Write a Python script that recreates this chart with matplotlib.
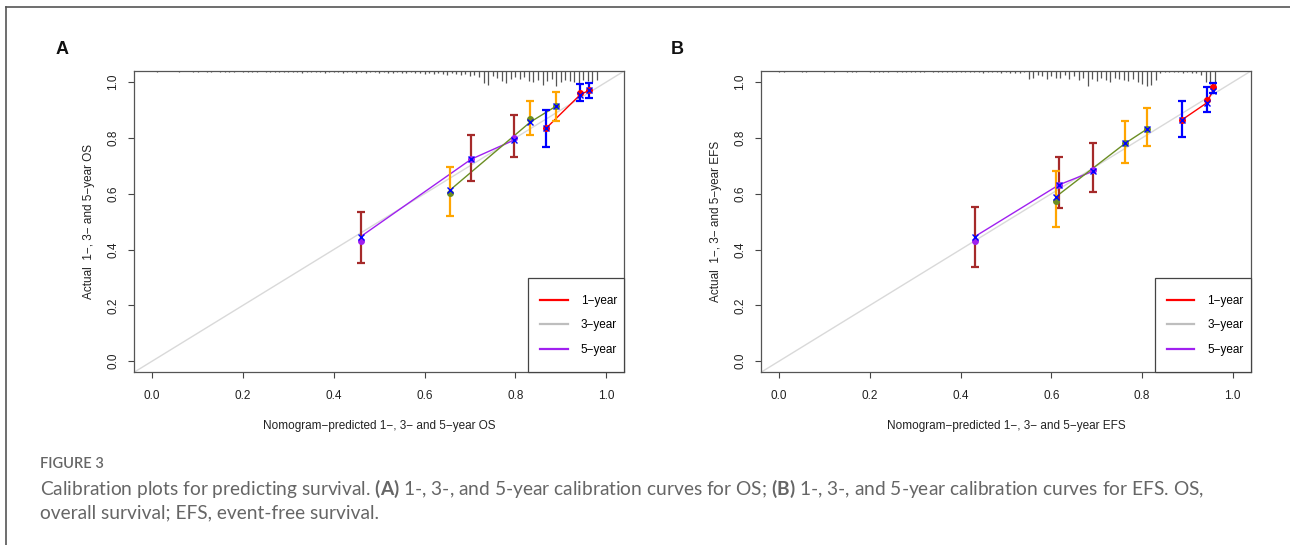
import matplotlib
matplotlib.use('Agg')
import matplotlib.pyplot as plt
import numpy as np
from matplotlib.lines import Line2D
from matplotlib.patches import Rectangle

# ---------------- data ----------------
# panel A : OS
a_5y_pred = [0.459, 0.703, 0.798]
a_5y_obs = [0.432, 0.724, 0.801]
a_5y_x = [0.446, 0.724, 0.793]
a_5y_lo = [0.351, 0.644, 0.732]
a_5y_hi = [0.533, 0.811, 0.881]

a_3y_pred = [0.656, 0.833, 0.890]
a_3y_obs = [0.602, 0.869, 0.914]
a_3y_x = [0.613, 0.857, 0.914]
a_3y_lo = [0.519, 0.812, 0.862]
a_3y_hi = [0.696, 0.932, 0.964]

a_1y_pred = [0.868, 0.943, 0.963]
a_1y_obs = [0.835, 0.962, 0.971]
a_1y_x = [0.835, 0.955, 0.971]
a_1y_lo = [0.769, 0.932, 0.944]
a_1y_hi = [0.902, 0.995, 0.996]

# panel B : EFS
b_5y_pred = [0.431, 0.617, 0.691]
b_5y_obs = [0.432, 0.632, 0.686]
b_5y_x = [0.446, 0.632, 0.680]
b_5y_lo = [0.339, 0.550, 0.608]
b_5y_hi = [0.551, 0.732, 0.783]

b_3y_pred = [0.610, 0.763, 0.812]
b_3y_obs = [0.575, 0.781, 0.833]
b_3y_x = [0.589, 0.781, 0.833]
b_3y_lo = [0.482, 0.710, 0.770]
b_3y_hi = [0.682, 0.861, 0.907]

b_1y_pred = [0.888, 0.943, 0.956]
b_1y_obs = [0.865, 0.936, 0.982]
b_1y_x = [0.865, 0.926, 0.970]
b_1y_lo = [0.804, 0.894, 0.960]
b_1y_hi = [0.932, 0.981, 0.996]

# spike histogram of predicted probabilities at the top (bins of 0.01)
a_rug_start = 0.01
a_rug_counts = [1, 0, 0, 0, 0, 1, 0, 0, 1, 1,
                0, 1, 1, 0, 1, 1, 1, 1, 0, 1,
                1, 1, 1, 0, 1, 1, 1, 1, 1, 1,
                1, 1, 2, 1, 1, 1, 1, 2, 1, 1,
                1, 2, 1, 1, 2, 1, 2, 1, 1, 2,
                1, 2, 2, 1, 2, 2, 1, 2, 2, 3,
                2, 3, 2, 3, 4, 2, 3, 4, 3, 5,
                4, 6, 12, 14, 5, 7, 10, 12, 8, 6,
                8, 6, 10, 11, 9, 14, 10, 8, 15, 11,
                9, 10, 11, 12, 9, 10, 11, 9]
b_rug_start = 0.0
b_rug_counts = [1, 1, 0, 0, 0, 1, 1, 0, 0, 0,
                1, 0, 1, 0, 0, 1, 1, 1, 0, 0,
                1, 1, 1, 1, 1, 0, 1, 1, 1, 1,
                1, 1, 1, 0, 1, 1, 1, 1, 1, 1,
                1, 1, 1, 1, 1, 2, 1, 1, 1, 2,
                1, 2, 2, 2, 1, 7, 6, 4, 5, 7,
                5, 6, 6, 4, 7, 5, 8, 6, 14, 7,
                9, 6, 8, 10, 6, 7, 8, 9, 7, 10,
                12, 14, 13, 8, 2, 1, 1, 1, 1, 2,
                1, 2, 2, 4, 10, 12, 13]

ticks = [0.0, 0.2, 0.4, 0.6, 0.8, 1.0]
tick_labels = ['0.0', '0.2', '0.4', '0.6', '0.8', '1.0']
legend_labels = ['1\u2212year', '3\u2212year', '5\u2212year']

# colours
err_cols = {'1y': '#0000FF', '3y': '#FFA500', '5y': '#A52A2A'}
line_cols = {'1y': '#FF0000', '3y': '#6B8E23', '5y': '#A020F0'}
legend_cols = ['#FF0000', '#BEBEBE', '#A020F0']

FONT = ['Liberation Sans', 'DejaVu Sans']
plt.rcParams['font.family'] = FONT
plt.rcParams['mathtext.fontset'] = 'custom'
plt.rcParams['mathtext.rm'] = 'Lato'
plt.rcParams['mathtext.bf'] = 'Lato:bold'

fig = plt.figure(figsize=(12.9, 5.45), dpi=100)


def draw_group(ax, pred, obs, xs, lo, hi, key):
    pred = np.array(pred)
    obs = np.array(obs)
    yerr = [obs - np.array(lo), np.array(hi) - obs]
    ax.plot(pred, xs, color=line_cols[key], lw=1.0, zorder=3)
    ax.errorbar(pred, obs, yerr=yerr, fmt='none', ecolor=err_cols[key],
                elinewidth=1.6, capsize=3.2, capthick=1.6, zorder=4)
    ax.plot(pred, obs, 'o', color=line_cols[key], ms=4, zorder=5)
    ax.plot(pred, xs, 'x', color='#0000FF', ms=4.5, mew=1.0, zorder=6)


def panel(rect, groups, rug_start, rug_counts, name):
    ax = fig.add_axes(rect)
    ax.set_xlim(-0.04, 1.04)
    ax.set_ylim(-0.04, 1.04)
    ax.axline((0, 0), slope=1, color='#D9D9D9', lw=1.0, zorder=1)

    # spike histogram hanging from the top edge
    counts = np.array(rug_counts, dtype=float)
    rx = rug_start + 0.01 * np.arange(len(counts))
    keep = counts > 0
    h = counts[keep] / counts.max() * 0.055
    ax.vlines(rx[keep], 1.04 - h, 1.04, color='#555555', lw=0.9, zorder=2)

    for g, key in zip(groups, ['5y', '3y', '1y']):
        draw_group(ax, *g, key)

    ax.set_xticks(ticks)
    ax.set_xticklabels(tick_labels)
    ax.set_yticks(ticks)
    ax.set_yticklabels(tick_labels, rotation=90, va='center')
    ax.tick_params(direction='out', length=4.5, width=0.8, color='#444444',
                   labelsize=8.5, labelcolor='#222222')
    ax.tick_params(axis='x', pad=8)
    ax.tick_params(axis='y', pad=6)
    for s in ax.spines.values():
        s.set_color('#555555')
        s.set_linewidth(0.9)

    ax.set_xlabel('Nomogram\u2212predicted 1\u2212, 3\u2212 and 5\u2212year ' + name,
                  fontsize=8.5, color='#222222', labelpad=13)
    ax.set_ylabel('Actual  1\u2212, 3\u2212 and 5\u2212year ' + name,
                  fontsize=8.5, color='#222222', labelpad=9)

    # legend box sits in the lower right corner, R style
    box = (0.804, 0.0, 0.196, 0.312)
    ax.add_patch(Rectangle(box[:2], box[2], box[3], transform=ax.transAxes,
                           facecolor='white', edgecolor='#444444', lw=0.9,
                           zorder=7, clip_on=False))
    handles = [Line2D([], [], color=c, lw=1.6) for c in legend_cols]
    leg = ax.legend(handles, legend_labels, loc='center',
                    bbox_to_anchor=(box[0] + 0.005, box[1], box[2], box[3]),
                    frameon=False, fontsize=8.5, handlelength=2.3,
                    handletextpad=1.1, labelspacing=1.05, borderpad=0)
    leg.set_zorder(8)
    return ax


panel([0.1039, 0.3169, 0.380, 0.5528],
      [(a_5y_pred, a_5y_obs, a_5y_x, a_5y_lo, a_5y_hi),
       (a_3y_pred, a_3y_obs, a_3y_x, a_3y_lo, a_3y_hi),
       (a_1y_pred, a_1y_obs, a_1y_x, a_1y_lo, a_1y_hi)],
      a_rug_start, a_rug_counts, 'OS')
panel([0.5899, 0.3169, 0.3798, 0.5528],
      [(b_5y_pred, b_5y_obs, b_5y_x, b_5y_lo, b_5y_hi),
       (b_3y_pred, b_3y_obs, b_3y_x, b_3y_lo, b_3y_hi),
       (b_1y_pred, b_1y_obs, b_1y_x, b_1y_lo, b_1y_hi)],
      b_rug_start, b_rug_counts, 'EFS')

# panel letters
fig.text(62 / 1290, 1 - 50 / 545, 'A', fontsize=13, fontweight='bold',
         ha='center', va='center', color='#111111')
fig.text(677 / 1290, 1 - 50 / 545, 'B', fontsize=13, fontweight='bold',
         ha='center', va='center', color='#111111')

# outer frame (left and top edges)
fig.add_artist(Line2D([6 / 1290, 6 / 1290], [0, 1 - 7 / 545], color='#555555', lw=1.2))
fig.add_artist(Line2D([6 / 1290, 1], [1 - 7 / 545, 1 - 7 / 545], color='#555555', lw=1.2))

# caption
cap_font = ['Lato', 'Open Sans', 'DejaVu Sans']
fig.text(40 / 1290, 1 - 464 / 545, 'FIGURE 3', fontsize=10.5, fontweight='semibold',
         family=cap_font, color='#666666', ha='left', va='center')
fig.text(40 / 1290, 1 - 489 / 545,
         'Calibration plots for predicting survival. $\\bf{(A)}$ 1-, 3-, and 5-year calibration curves for OS; '
         '$\\bf{(B)}$ 1-, 3-, and 5-year calibration curves for EFS. OS,',
         fontsize=13.8, family=cap_font, color='#666666', ha='left', va='center')
fig.text(40 / 1290, 1 - 513 / 545, 'overall survival; EFS, event-free survival.',
         fontsize=13.8, family=cap_font, color='#666666', ha='left', va='center')

fig.savefig('out.png', dpi=100)
